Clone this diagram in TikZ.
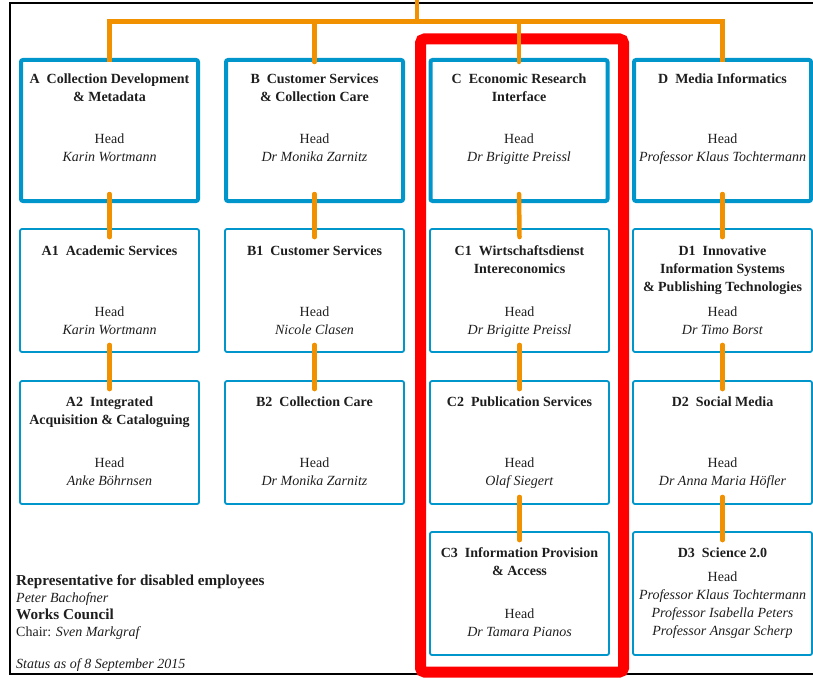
\documentclass[tikz,border=0pt]{standalone}
\usepackage{fontspec}
\setmainfont{Liberation Serif}
\usetikzlibrary{positioning,calc}

\definecolor{boxblue}{RGB}{0,150,204}
\definecolor{linkorange}{RGB}{242,145,0}
\definecolor{textgray}{RGB}{30,30,30}

\tikzset{
  dept/.style={draw=boxblue, line width=4pt, rounded corners=2pt, minimum width=177pt, minimum height=141pt, inner sep=0pt},
  subunit/.style={draw=boxblue, line width=1.8pt, rounded corners=2pt, minimum width=179pt, minimum height=123pt, inner sep=0pt},
  unittitle/.style={font=\bfseries\fontsize{14}{18}\selectfont, align=center, anchor=base, inner sep=0pt, text=textgray},
  headtext/.style={font=\fontsize{14}{18}\selectfont, align=center, anchor=base, inner sep=0pt, text=textgray},
  link/.style={draw=linkorange, line width=4.5pt, line cap=round},
  redframe/.style={draw=red, line width=11pt, rounded corners=4pt},
}

\begin{document}
\begin{tikzpicture}[x=1pt, y=-1pt]
\useasboundingbox (0,0) rectangle (813,677);

% outer frame
\draw[line width=2pt, black] (820,3) -- (10,3) -- (10,674) -- (820,674);

% departments
\node[dept] (A) at (109.5,130.5) {};
\node[dept] (B) at (314.5,130.5) {};
\node[dept] (C) at (519,130.5) {};
\node[dept] (D) at (722.5,130.5) {};

% units
\foreach \c/\x in {A/109.5,B/314.5,C/519.5,D/722.5}{
  \node[subunit] (\c1) at (\x,290.5) {};
  \node[subunit] (\c2) at (\x,442.5) {};
}
\node[subunit] (C3) at (519.5,593.5) {};
\node[subunit] (D3) at (722.5,593.5) {};

% titles (base = last line)
\node[unittitle] (A-t) at ([yshift=-43pt]A.north) {A\enspace Collection Development\\\& Metadata};
\node[unittitle] (B-t) at ([yshift=-43pt]B.north) {B\enspace Customer Services\\\& Collection Care};
\node[unittitle] (C-t) at ([yshift=-43pt]C.north) {C\enspace Economic Research\\Interface};
\node[unittitle] (D-t) at ([yshift=-25pt]D.north) {D\enspace Media Informatics};

\node[unittitle] (A1-t) at ([yshift=-27pt]A1.north) {A1\enspace Academic Services};
\node[unittitle] (B1-t) at ([yshift=-27pt]B1.north) {B1\enspace Customer Services};
\node[unittitle] (C1-t) at ([yshift=-45pt]C1.north) {C1\enspace Wirtschaftsdienst\\Intereconomics};
\node[unittitle] (D1-t) at ([yshift=-63pt]D1.north) {D1\enspace Innovative\\Information Systems\\\& Publishing Technologies};

\node[unittitle] (A2-t) at ([yshift=-44pt]A2.north) {A2\enspace Integrated\\Acquisition \& Cataloguing};
\node[unittitle] (B2-t) at ([yshift=-26pt]B2.north) {B2\enspace Collection Care};
\node[unittitle] (C2-t) at ([yshift=-26pt]C2.north) {C2\enspace Publication Services};
\node[unittitle] (D2-t) at ([yshift=-26pt]D2.north) {D2\enspace Social Media};

\node[unittitle] (C3-t) at ([yshift=-44pt]C3.north) {C3\enspace Information Provision\\\& Access};
\node[unittitle] (D3-t) at ([yshift=-26pt]D3.north) {D3\enspace Science 2.0};

% heads
\node[headtext] (A-h) at ([yshift=-103pt]A.north) {Head\\\textit{Karin Wortmann}};
\node[headtext] (B-h) at ([yshift=-103pt]B.north) {Head\\\textit{Dr Monika Zarnitz}};
\node[headtext] (C-h) at ([yshift=-103pt]C.north) {Head\\\textit{Dr Brigitte Preissl}};
\node[headtext] (D-h) at ([yshift=-103pt]D.north) {Head\\\textit{Professor Klaus Tochtermann}};

\node[headtext] (A1-h) at ([yshift=-106pt]A1.north) {Head\\\textit{Karin Wortmann}};
\node[headtext] (B1-h) at ([yshift=-106pt]B1.north) {Head\\\textit{Nicole Clasen}};
\node[headtext] (C1-h) at ([yshift=-106pt]C1.north) {Head\\\textit{Dr Brigitte Preissl}};
\node[headtext] (D1-h) at ([yshift=-106pt]D1.north) {Head\\\textit{Dr Timo Borst}};

\node[headtext] (A2-h) at ([yshift=-105pt]A2.north) {Head\\\textit{Anke Böhrnsen}};
\node[headtext] (B2-h) at ([yshift=-105pt]B2.north) {Head\\\textit{Dr Monika Zarnitz}};
\node[headtext] (C2-h) at ([yshift=-105pt]C2.north) {Head\\\textit{Olaf Siegert}};
\node[headtext] (D2-h) at ([yshift=-105pt]D2.north) {Head\\\textit{Dr Anna Maria Höfler}};

\node[headtext] (C3-h) at ([yshift=-105pt]C3.north) {Head\\\textit{Dr Tamara Pianos}};
\node[headtext] (D3-h) at ([yshift=-104pt]D3.north) {Head\\\textit{Professor Klaus Tochtermann}\\\textit{Professor Isabella Peters}\\\textit{Professor Ansgar Scherp}};

% notes
\node[anchor=base west, align=left, inner sep=0pt, text=textgray, font=\fontsize{14}{17}\selectfont] (notes) at (16,636)
  {{\fontsize{15.2}{17}\selectfont\bfseries Representative for disabled employees}\\
   \textit{Peter Bachofner}\\
   {\fontsize{15.2}{17}\selectfont\bfseries Works Council}\\
   Chair: \textit{Sven Markgraf}};
\node[anchor=base west, inner sep=0pt, text=textgray, font=\fontsize{14}{17}\selectfont\itshape] (status) at (16,668) {Status as of 8 September 2015};

% highlight
\draw[redframe] (420.5,39) rectangle (623.5,672);

% connectors
\coordinate (stem) at (417,-3);
\coordinate (bus) at (417,21.5);
\draw[link, line cap=butt] (stem) -- (bus);
\draw[link, line cap=butt] ([yshift=-4pt]A.north) |- (bus) -| ([yshift=-4pt]D.north);
\foreach \c in {B,C}
  \draw[link] (\c.north |- bus) -- ([yshift=-4pt]\c.north);
\foreach \c in {A,B,C,D}{
  \draw[link] ([yshift=9pt]\c.south) -- ([yshift=-9pt]\c1.north);
  \draw[link] ([yshift=8pt]\c1.south) -- ([yshift=-9pt]\c2.north);
}
\foreach \c in {C,D}
  \draw[link] ([yshift=8pt]\c2.south) -- ([yshift=-9pt]\c3.north);
\end{tikzpicture}
\end{document}
